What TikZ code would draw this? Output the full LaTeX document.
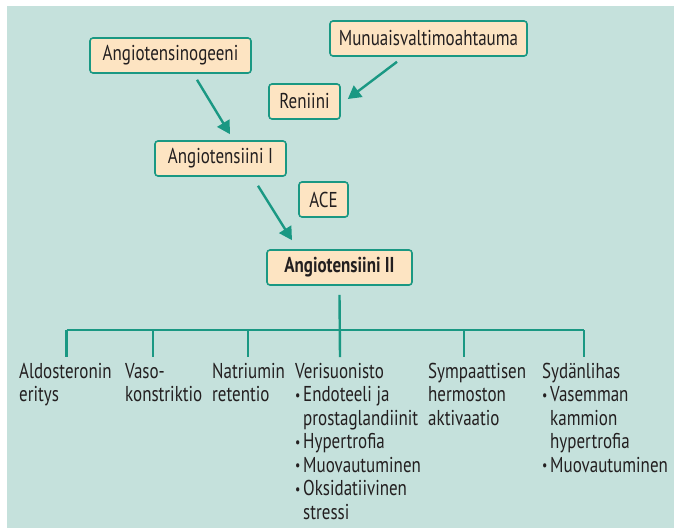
\documentclass[tikz,border=0pt]{standalone}
\usepackage{fontspec}
\setmainfont[FakeStretch=0.79]{PT Sans}
\usetikzlibrary{arrows.meta}
\definecolor{bgc}{HTML}{C5E1DC}
\definecolor{boxfill}{HTML}{FDE4C2}
\definecolor{teal1}{HTML}{1A9883}
\definecolor{txt}{HTML}{231F20}
\tikzset{
  box/.style={draw=teal1, line width=1.6pt, fill=boxfill, rounded corners=3pt,
    minimum height=35pt, inner sep=0pt, text=txt, font=\fontsize{21.5}{23.5}\selectfont},
  arr/.style={draw=teal1, line width=2.4pt, -{Triangle[length=13pt,width=14pt]}},
  tree/.style={draw=teal1, line width=2.4pt},
  lab/.style={anchor=base west, inner sep=0pt, text=txt, font=\fontsize{21.5}{23.5}\selectfont}
}
\newcommand{\bul}{\makebox[8pt][l]{\raisebox{1.5pt}{\fontsize{15}{15}\selectfont\textbullet}}}
\newcommand{\ind}{\hspace*{8pt}}
\begin{document}
\begin{tikzpicture}[x=1pt,y=-1pt]
\useasboundingbox (0,0) rectangle (674,528);
\fill[bgc] (7,6) rectangle (674,528);
\node[box, minimum width=161pt] (agn) at (170.5,55.5) {Angiotensinogeeni};
\node[box, minimum width=197pt] (mun) at (428.5,38.5) {Munuaisvaltimoahtauma};
\node[box, minimum width=71pt] (ren) at (304.5,101.5) {Reniini};
\node[box, minimum width=131pt] (a1) at (220.5,158.5) {Angiotensiini I};
\node[box, minimum width=49pt] (ace) at (323.5,199.5) {ACE};
\node[box, minimum width=145pt, font=\fontsize{21.5}{23.5}\selectfont\bfseries] (a2) at (339.5,267.5) {Angiotensiini II};
\draw[arr] ([xshift=26.5pt,yshift=-6pt]agn.south) -- ([xshift=9.5pt,yshift=6pt]a1.north);
\draw[arr] ([xshift=-31.5pt,yshift=-5pt]mun.south) -- ([xshift=7pt,yshift=2.5pt]ren.east);
\draw[arr] ([xshift=37.5pt,yshift=-9pt]a1.south) -- ([xshift=-47.5pt,yshift=9pt]a2.north);
\coordinate (top) at ([yshift=-9pt]a2.south);
\foreach \n/\x in {d1/66.5,d2/153,d3/248,d4/340,d5/464,d6/584}{
  \coordinate (\n t) at (\x,330);
  \coordinate (\n b) at (\x,357);
}
\draw[tree] (top) -- (d4b);
\draw[tree] (d1t) -- (d6t);
\foreach \n in {d1,d2,d3,d5,d6}{\draw[tree] (\n t) -- (\n b);}
\node[lab] (t1) at (19,378) {\parbox[t]{110pt}{Aldosteronin\\eritys}};
\node[lab] (t2) at (125,378) {\parbox[t]{110pt}{Vaso-\\konstriktio}};
\node[lab] (t3) at (212,378) {\parbox[t]{110pt}{Natriumin\\retentio}};
\node[lab] (t4) at (295,378) {\parbox[t]{140pt}{Verisuonisto\\\bul Endoteeli ja\\\ind prostaglandiinit\\\bul Hypertrofia\\\bul Muovautuminen\\\bul Oksidatiivinen\\\ind stressi}};
\node[lab] (t5) at (428,378) {\parbox[t]{110pt}{Sympaattisen\\hermoston\\aktivaatio}};
\node[lab] (t6) at (542,378) {\parbox[t]{140pt}{Sydänlihas\\\bul Vasemman\\\ind kammion\\\ind hypertrofia\\\bul Muovautuminen}};
\end{tikzpicture}
\end{document}
